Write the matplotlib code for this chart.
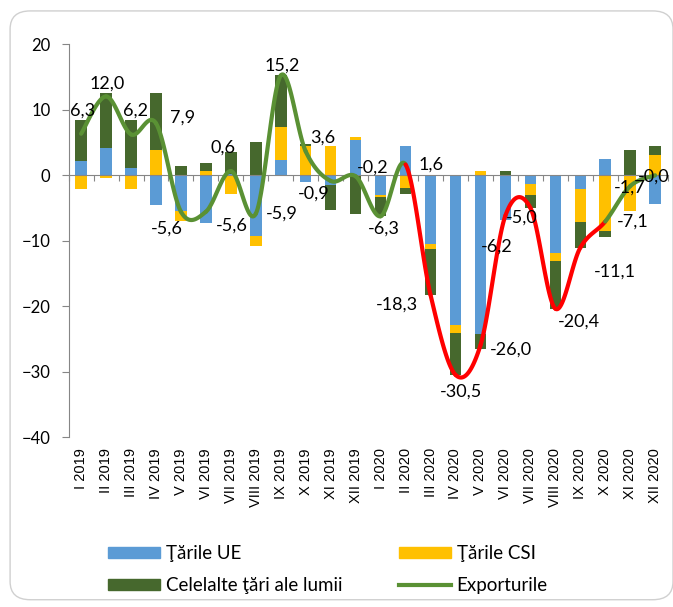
import numpy as np
import matplotlib
matplotlib.use("Agg")
from matplotlib import pyplot as plt
from matplotlib.patches import Patch, FancyBboxPatch
from matplotlib.lines import Line2D

plt.rcParams['font.family'] = ['Lato', 'DejaVu Sans']

months = ['I 2019', 'II 2019', 'III 2019', 'IV 2019', 'V 2019', 'VI 2019',
          'VII 2019', 'VIII 2019', 'IX 2019', 'X 2019', 'XI 2019', 'XII 2019',
          'I 2020', 'II 2020', 'III 2020', 'IV 2020', 'V 2020', 'VI 2020',
          'VII 2020', 'VIII 2020', 'IX 2020', 'X 2020', 'XI 2020', 'XII 2020']
ue = [2.1, 4.2, 1.1, -4.6, -5.5, -7.4, 0.2, -9.3, 2.3, -1.1, -1.6, 5.4,
      -3.1, 4.5, -10.5, -22.9, -24.3, -6.8, -1.4, -11.9, -2.1, 2.4, 0.0, -4.4]
csi = [-2.1, -0.5, -2.2, 3.8, -1.5, 0.6, -2.9, -1.6, 5.1, 4.4, 4.4, 0.4,
       -0.2, -2.0, -0.8, -1.2, 0.6, 0.0, -1.6, -1.2, -5.1, -8.5, -5.5, 3.0]
other = [6.3, 8.3, 7.3, 8.7, 1.4, 1.2, 3.3, 5.0, 7.8, 0.3, -3.7, -6.0,
         -3.0, -0.9, -7.0, -6.4, -2.3, 0.6, -2.0, -7.3, -3.9, -1.0, 3.8, 1.4]
exports = [6.3, 12.0, 6.2, 7.9, -5.6, -5.6, 0.6, -5.9, 15.2, 3.6, -0.9, -0.2,
           -6.3, 1.6, -18.3, -30.5, -26.0, -6.2, -5.0, -20.4, -11.1, -7.1, -1.7, -0.04]

# label offsets in points (dx, dy)
offsets = [(1, 17), (1, 9), (3, 17), (19, 4), (-10, -12), (19, -10),
           (-6, 17), (19, 0), (1, 7), (12, 10), (-12, -9), (12, 6),
           (2, -9), (18, 0), (-24, -7), (4, -12), (22, -3), (-6, -22),
           (-6, -7), (17, -9), (25, -17), (20, 0), (0, -1), (-1, -1)]

C_UE = '#5B9BD5'
C_CSI = '#FFC000'
C_OTHER = '#46682D'
C_LINE = '#5A9134'
C_RED = '#FF0000'

fig = plt.figure(figsize=(6.73, 6.07), dpi=100)
fig.patches.append(FancyBboxPatch((0.015, 0.012), 0.985, 0.97,
                                  boxstyle='round,pad=0,rounding_size=0.03',
                                  transform=fig.transFigure, fc='white',
                                  ec='#D0D0D0', lw=1.0, zorder=-10))
ax = fig.add_axes([0.102, 0.28, 0.89, 0.6475])
ax.patch.set_alpha(0)

x = np.arange(len(months))
w = 0.46
pos = np.zeros(len(x))
neg = np.zeros(len(x))
for vals, col in [(ue, C_UE), (csi, C_CSI), (other, C_OTHER)]:
    v = np.array(vals)
    base = np.where(v >= 0, pos, neg)
    ax.bar(x, v, w, bottom=base, color=col, zorder=2)
    pos += np.where(v >= 0, v, 0)
    neg += np.where(v < 0, v, 0)


# smoothed line through the export values (Catmull-Rom style beziers)
def smooth(xs, ys, n=30):
    px = np.concatenate([[xs[0]], xs, [xs[-1]]])
    py = np.concatenate([[ys[0]], ys, [ys[-1]]])
    segs = []
    t = np.linspace(0, 1, n)[:, None]
    for i in range(1, len(px) - 2):
        p0 = np.array([px[i], py[i]])
        p3 = np.array([px[i + 1], py[i + 1]])
        p1 = p0 + (np.array([px[i + 1], py[i + 1]]) - np.array([px[i - 1], py[i - 1]])) / 6
        p2 = p3 - (np.array([px[i + 2], py[i + 2]]) - np.array([px[i], py[i]])) / 6
        pts = ((1 - t) ** 3) * p0 + 3 * ((1 - t) ** 2) * t * p1 + 3 * (1 - t) * t ** 2 * p2 + t ** 3 * p3
        segs.append(pts)
    return segs


segs = smooth(x.astype(float), np.array(exports))
for i, s in enumerate(segs):
    col = C_RED if 13 <= i < 21 else C_LINE
    ax.plot(s[:, 0], s[:, 1], color=col, lw=3, solid_capstyle='round', zorder=3)

for i, v in enumerate(exports):
    txt = f'{v:.1f}'.replace('.', ',')
    ax.annotate(txt, (x[i], v), xytext=offsets[i], textcoords='offset points',
                ha='center', va='center', fontsize=13, color='black', zorder=4)

ax.set_xlim(-0.5, len(months) - 0.5)
ax.set_ylim(-40, 20)
ax.set_yticks(range(-40, 21, 10))
ax.tick_params(axis='y', labelsize=12, length=5, color='#868686', pad=8)
for s in ['top', 'right']:
    ax.spines[s].set_visible(False)
ax.spines['left'].set_color('#868686')
ax.spines['bottom'].set_position(('data', 0))
ax.spines['bottom'].set_color('#868686')
ax.set_xticks(np.arange(-0.5, len(months), 1))
ax.set_xticklabels([])
ax.tick_params(axis='x', length=4, color='#868686')

sec = ax.secondary_xaxis('bottom')
sec.set_xticks(x, months, rotation=90, fontsize=10.5, family='Liberation Sans')
sec.tick_params(length=0, pad=8)
sec.spines['bottom'].set_visible(False)

# column-major order so rows read UE / CSI, then others / exports
handles = [Patch(color=C_UE, label='Ţările UE'),
           Patch(color=C_OTHER, label='Celelalte ţări ale lumii'),
           Patch(color=C_CSI, label='Ţările CSI'),
           Line2D([], [], color=C_LINE, lw=3, label='Exporturile')]
fig.legend(handles=handles, ncol=2, loc='center', bbox_to_anchor=(0.487, 0.062),
           frameon=False, fontsize=13.5, handlelength=2.8, handleheight=0.55,
           handletextpad=0.3, columnspacing=3.0, labelspacing=0.8)

fig.savefig('out.png', dpi=100)
